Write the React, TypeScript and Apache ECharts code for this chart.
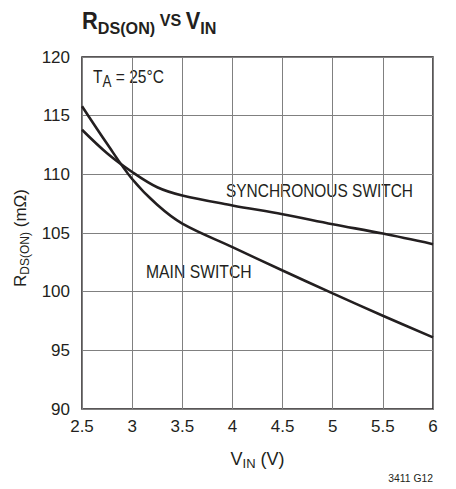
import React, { useEffect, useRef } from "react";
import * as echarts from "echarts";

const xTicks = [2.5, 3, 3.5, 4, 4.5, 5, 5.5, 6];
const vin = [2.5, 2.75, 3, 3.25, 3.5, 4, 4.5, 5, 5.5, 6];
const mainSwitch = [115.8, 112.6, 109.6, 107.4, 105.8, 103.8, 101.8, 99.85, 97.95, 96.1];
const syncSwitch = [113.8, 111.8, 110.2, 108.9, 108.2, 107.35, 106.6, 105.75, 104.95, 104.05];

const FONT = "'Liberation Sans', Arial, sans-serif";
const INK = "#231f20";

export default function App() {
  const ref = useRef<HTMLDivElement>(null);
  useEffect(() => {
    const chart = echarts.init(ref.current!, null, { renderer: "svg" });
    const gridL = 82, gridR = 23, gridT = 57, gridB = 80;
    chart.setOption({
      animation: false,
      textStyle: { fontFamily: FONT },
      grid: { left: gridL, right: gridR, top: gridT, bottom: gridB, show: true, borderColor: INK, borderWidth: 1.5 },
      xAxis: {
        type: "value",
        min: xTicks[0],
        max: xTicks[xTicks.length - 1],
        interval: 0.5,
        axisLine: { show: false },
        axisTick: { show: false },
        splitLine: { show: true, lineStyle: { color: "#808080", width: 1 } },
        axisLabel: { color: INK, fontSize: 17, fontFamily: FONT, margin: 9, formatter: (v: number) => String(v) },
        name: "{n|V}{s|IN}{n| (V)}",
        nameLocation: "middle",
        nameGap: 40,
        nameTextStyle: {
          rich: {
            n: { fontSize: 18, fontFamily: FONT, color: INK, lineHeight: 20 },
            s: { fontSize: 13, fontFamily: FONT, color: INK, lineHeight: 14, padding: [9, 0, 0, 0] },
          },
        },
      },
      yAxis: {
        type: "value",
        min: 90,
        max: 120,
        interval: 5,
        axisLine: { show: false },
        axisTick: { show: false },
        splitLine: { show: true, lineStyle: { color: "#808080", width: 1 } },
        axisLabel: { color: INK, fontSize: 17, fontFamily: FONT, margin: 12 },
        name: "{n|R}{s|DS(ON)}{n| (mΩ)}",
        nameLocation: "middle",
        nameGap: 44,
        nameRotate: 90,
        nameTextStyle: {
          padding: [0, 10, 0, 0],
          rich: {
            n: { fontSize: 17, fontFamily: FONT, color: INK, lineHeight: 20 },
            s: { fontSize: 12, fontFamily: FONT, color: INK, lineHeight: 14, padding: [8, 0, 0, 0] },
          },
        },
      },
      graphic: [
        {
          type: "text",
          x: 82,
          y: 21,
          scaleX: 0.95,
          style: {
            text: "{b|R}{bs|DS(ON)}{m| VS }{b|V}{bs|IN}",
            align: "left",
            verticalAlign: "middle",
            rich: {
              b: { fontSize: 23, fontWeight: "bold", fontFamily: FONT, fill: INK, lineHeight: 24 },
              bs: { fontSize: 17, fontWeight: "bold", fontFamily: FONT, fill: INK, lineHeight: 17, padding: [14, 0, 0, 0] },
              m: { fontSize: 17, fontWeight: "bold", fontFamily: FONT, fill: INK, lineHeight: 17, padding: [0, 0, 2, 0] },
            },
          },
        },
        {
          type: "text",
          x: 93,
          y: 77,
          scaleX: 0.84,
          style: {
            text: "{n|T}{s|A}{n| = 25°C}",
            align: "left",
            verticalAlign: "middle",
            rich: {
              n: { fontSize: 18.5, fontFamily: FONT, fill: INK, lineHeight: 20 },
              s: { fontSize: 16, fontFamily: FONT, fill: INK, lineHeight: 16, padding: [10, 0, 0, 0] },
            },
          },
        },
        {
          type: "text",
          x: 226,
          y: 191,
          scaleX: 0.835,
          style: { text: "SYNCHRONOUS SWITCH", fontSize: 18.5, fontFamily: FONT, fill: INK, align: "left", verticalAlign: "middle" },
        },
        {
          type: "text",
          x: 146,
          y: 272,
          scaleX: 0.85,
          style: { text: "MAIN SWITCH", fontSize: 18.5, fontFamily: FONT, fill: INK, align: "left", verticalAlign: "middle" },
        },
        {
          type: "text",
          x: 433,
          y: 478,
          scaleX: 0.9,
          style: { text: "3411 G12", fontSize: 11.5, fontFamily: FONT, fill: INK, align: "right", verticalAlign: "middle" },
        },
      ],
      series: [
        {
          type: "line",
          data: vin.map((v, i) => [v, mainSwitch[i]]),
          smooth: 0.35,
          showSymbol: false,
          lineStyle: { color: INK, width: 2.6 },
        },
        {
          type: "line",
          data: vin.map((v, i) => [v, syncSwitch[i]]),
          smooth: 0.35,
          showSymbol: false,
          lineStyle: { color: INK, width: 2.6 },
        },
      ],
    });
    return () => chart.dispose();
  }, []);
  return <div ref={ref} style={{ width: 456, height: 489, position: "absolute", left: 0, top: 0 }} />;
}
